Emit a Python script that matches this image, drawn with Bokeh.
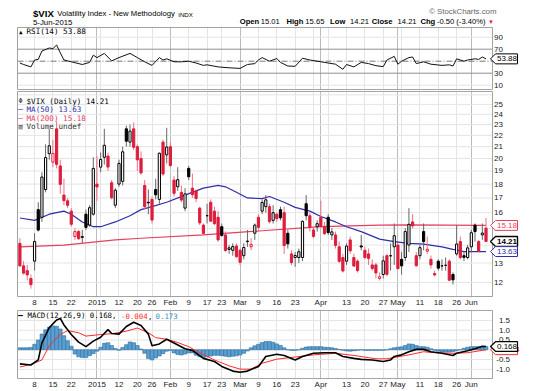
import numpy as np
import pandas as pd
from bokeh.plotting import figure
from bokeh.layouts import column
from bokeh.models import (Range1d, Label, FixedTicker, Grid, ColumnDataSource,
                          CustomJSTickFormatter)
from bokeh.core.properties import value
from bokeh.embed import file_html
from bokeh.resources import INLINE

# ---------------- data ----------------
holidays = ["2014-12-25", "2015-01-01", "2015-01-19", "2015-02-16", "2015-04-03", "2015-05-25"]
prev_close = 14.29  # close of the session before the first candle

opens = [14.10, 12.85, 12.60, 12.20, 13.10, 16.20, 15.70, 17.60, 20.40, 19.70,
         22.60, 19.40, 17.20, 16.80, 16.10, 14.50, 14.80, 14.45, 15.90, 15.20,
         15.90, 18.00, 19.30, 20.10, 20.20, 18.10, 16.50, 18.00, 18.20, 22.60,
         21.40, 22.60, 21.00, 20.00, 17.90, 16.70, 16.90, 17.60, 16.90, 21.40,
         20.30, 21.00, 18.30, 17.80, 17.40, 16.30, 19.20, 17.70, 17.50, 16.30,
         15.20, 15.80, 16.70, 16.10, 15.70, 15.10, 14.60, 13.75, 13.70, 13.95,
         13.70, 13.40, 14.20, 13.90, 14.70, 15.70, 16.10, 16.40, 16.40, 15.50,
         15.90, 16.20, 16.00, 14.70, 13.50, 13.30, 13.30, 13.30, 16.60, 15.80,
         14.90, 15.10, 15.70, 15.10, 15.70, 14.60, 14.60, 13.90, 13.30, 13.10,
         14.30, 13.30, 13.10, 13.95, 13.70, 13.50, 12.90, 12.90, 12.20, 12.40,
         13.40, 13.40, 13.90, 14.00, 13.20, 13.30, 14.00, 15.40, 13.40, 13.40,
         14.80, 13.65, 13.20, 12.45, 13.10, 12.85, 12.88, 13.10, 12.40, 13.50,
         14.20, 13.40, 13.30, 13.90, 15.20, 14.20, 14.60, 15.01]
highs = [14.40, 13.10, 12.90, 12.40, 14.70, 16.70, 18.90, 21.20, 22.60, 21.60,
         23.30, 19.90, 18.40, 17.00, 16.30, 15.00, 14.90, 14.90, 16.20, 16.50,
         20.10, 20.20, 20.50, 22.60, 20.50, 18.30, 17.70, 19.90, 21.00, 22.90,
         23.00, 23.20, 21.20, 20.60, 18.30, 17.60, 17.10, 18.40, 20.50, 21.60,
         22.70, 21.40, 18.60, 19.30, 17.90, 17.70, 19.40, 18.80, 17.60, 16.40,
         15.30, 16.60, 16.90, 16.40, 16.10, 15.30, 14.80, 14.00, 14.10, 14.10,
         13.80, 14.10, 14.90, 14.40, 15.30, 15.90, 16.90, 17.20, 16.60, 16.50,
         16.00, 16.40, 16.40, 14.90, 13.70, 13.60, 13.80, 15.50, 17.20, 16.00,
         15.10, 15.50, 16.80, 15.40, 15.90, 15.00, 14.80, 14.20, 13.50, 14.10,
         14.50, 13.50, 13.20, 14.60, 13.90, 13.80, 13.20, 13.00, 12.50, 13.40,
         13.50, 14.10, 15.30, 14.10, 13.60, 15.00, 16.30, 15.90, 13.60, 14.00,
         15.30, 14.50, 13.40, 12.60, 13.20, 13.20, 13.30, 13.20, 12.50, 15.20,
         14.50, 13.60, 14.00, 14.90, 15.30, 14.30, 15.30, 15.65]
lows = [12.80, 12.40, 12.10, 11.70, 12.60, 14.80, 15.40, 17.40, 19.90, 19.30,
        19.20, 17.30, 16.50, 16.30, 15.10, 14.30, 14.30, 14.10, 14.90, 15.10,
        15.80, 16.80, 18.90, 19.50, 19.00, 16.90, 16.30, 17.80, 17.90, 21.00,
        21.00, 20.70, 19.00, 18.70, 16.20, 15.90, 15.30, 16.90, 16.60, 18.60,
        19.60, 19.30, 17.10, 17.50, 16.70, 16.10, 18.30, 17.00, 16.70, 15.20,
        14.60, 15.30, 15.40, 15.20, 14.20, 14.50, 13.60, 13.50, 13.40, 13.30,
        12.90, 13.20, 13.90, 13.70, 14.30, 14.90, 15.90, 16.00, 15.30, 15.30,
        15.40, 15.50, 13.50, 13.80, 12.90, 12.80, 13.00, 13.10, 15.50, 14.80,
        14.40, 14.80, 15.00, 14.60, 14.60, 14.30, 13.80, 13.00, 12.50, 12.90,
        13.50, 12.80, 12.50, 13.70, 13.20, 12.90, 12.60, 12.20, 12.10, 12.20,
        12.30, 12.60, 12.90, 12.70, 12.40, 13.10, 13.60, 15.00, 12.80, 13.20,
        13.70, 13.50, 12.70, 12.30, 12.60, 12.60, 12.60, 12.10, 11.90, 13.40,
        13.20, 13.10, 13.20, 13.60, 14.20, 13.60, 14.30, 14.21]
closes = [12.85, 12.47, 12.38, 11.89, 14.21, 14.89, 18.53, 20.08, 21.08, 20.42,
          19.52, 17.98, 16.81, 16.49, 15.25, 14.80, 14.37, 14.50, 15.06, 16.33,
          19.20, 17.79, 19.92, 21.12, 19.31, 17.01, 17.55, 19.60, 20.56, 21.48,
          22.39, 20.95, 19.89, 18.85, 16.40, 16.66, 15.52, 17.22, 20.44, 18.76,
          20.97, 19.43, 17.33, 18.33, 16.85, 17.29, 18.55, 17.23, 16.96, 15.34,
          14.69, 15.80, 15.45, 15.29, 14.30, 14.56, 13.69, 13.84, 13.91, 13.34,
          13.04, 13.86, 14.23, 14.04, 15.20, 15.06, 16.69, 16.87, 15.42, 16.00,
          15.61, 15.66, 13.97, 14.07, 13.02, 13.41, 13.62, 15.44, 15.80, 15.07,
          14.51, 15.29, 15.11, 14.67, 14.74, 14.78, 13.98, 13.09, 12.58, 13.94,
          13.67, 12.84, 12.60, 13.89, 13.30, 13.25, 12.71, 12.48, 12.29, 13.12,
          12.41, 13.39, 14.55, 12.70, 12.85, 14.80, 15.25, 15.15, 12.86, 13.85,
          14.20, 13.76, 12.90, 12.38, 12.73, 12.85, 12.88, 12.11, 12.13, 14.06,
          13.30, 13.31, 13.84, 14.73, 14.80, 13.66, 14.71, 14.21]

ma50_idx = [0, 4, 8, 12, 14, 17, 20, 22, 26, 30, 33, 36, 40, 45, 50, 54, 56, 59,
            62, 66, 68, 72, 75, 79, 82, 86, 89, 93, 98, 102, 106, 110, 115, 118, 121, 127]
ma50_val = [15.65, 15.5, 15.9, 16.1, 15.9, 15.4, 15.1, 15.1, 15.4, 15.8, 16.2, 16.4,
            16.7, 17.2, 17.7, 17.9, 17.8, 17.4, 17.0, 16.95, 17.1, 16.7, 16.35, 16.1,
            15.75, 15.4, 15.1, 14.8, 14.35, 14.2, 14.1, 14.05, 13.9, 13.75, 13.63, 13.63]
ma200_idx = [0, 12, 26, 33, 50, 66, 82, 98, 106, 116, 127]
ma200_val = [13.9, 14.0, 14.3, 14.4, 14.6, 14.85, 15.1, 15.2, 15.22, 15.2, 15.18]

rsi_idx = [0, 1, 3, 4, 5, 6, 8, 9, 10, 11, 12, 15, 17, 19, 20, 21, 23, 25, 27, 30,
           32, 34, 36, 38, 39, 40, 42, 44, 46, 48, 50, 51, 54, 57, 60, 62, 64, 65,
           66, 68, 70, 71, 73, 75, 77, 79, 81, 83, 86, 88, 89, 91, 93, 95, 97, 99,
           100, 102, 103, 104, 106, 107, 108, 110, 112, 115, 117, 118, 119, 121,
           122, 124, 125, 126, 127]
rsi_val = [47, 44.5, 40.5, 52, 53, 67, 72, 71, 77, 64, 52, 47.5, 44.5, 48, 60, 56,
           63, 50.5, 56, 63, 56, 49, 43, 56, 52, 54, 49, 49, 50, 47, 43, 44, 40.5,
           39, 38, 44.5, 46, 52, 56, 50, 54.5, 48, 42, 41.5, 55, 52, 50, 48, 45,
           36.5, 44.5, 40.5, 48, 46, 42.5, 41, 52, 58, 45, 50, 56, 57, 46, 49, 45,
           43, 44, 42, 54, 50, 52, 54, 53, 57, 53.88]

macd_idx = [0, 3, 5, 6, 8, 10, 11, 12, 14, 16, 18, 20, 22, 24, 25, 27, 29, 31, 33,
            35, 36, 38, 40, 42, 45, 47, 50, 53, 55, 58, 60, 62, 65, 67, 70, 72, 75,
            77, 80, 83, 86, 88, 91, 93, 96, 99, 101, 102, 104, 106, 108, 110, 112,
            115, 118, 119, 122, 124, 126, 127]
macd_val = [-0.72, -0.78, -0.52, 0.35, 1.13, 1.52, 1.60, 1.27, 0.78, 0.39, 0.16,
            0.44, 0.64, 1.03, 0.83, 0.80, 1.19, 1.41, 1.24, 0.80, 0.21, 0.30, 0.54,
            0.35, 0.05, -0.03, -0.44, -0.60, -0.85, -1.09, -1.15, -1.09, -0.85,
            -0.34, -0.23, -0.29, -0.52, -0.34, -0.18, -0.15, -0.15, -0.34, -0.44,
            -0.49, -0.52, -0.60, -0.52, -0.34, -0.26, -0.10, 0.02, 0.02, -0.10,
            -0.18, -0.29, -0.18, -0.05, 0.05, 0.18, 0.168]
signal_idx = [0, 3, 6, 8, 11, 13, 16, 18, 22, 25, 29, 32, 35, 37, 40, 43, 46, 49,
              53, 57, 60, 63, 66, 70, 75, 80, 86, 91, 97, 100, 106, 110, 113, 118,
              122, 126, 127]
signal_val = [-0.88, -0.75, -0.52, 0.21, 0.78, 0.98, 0.87, 0.70, 0.78, 0.82, 0.95,
              1.11, 0.87, 0.62, 0.54, 0.37, 0.16, -0.16, -0.52, -0.82, -0.99, -0.99,
              -0.69, -0.48, -0.37, -0.26, -0.18, -0.29, -0.46, -0.46, -0.26, -0.10,
              -0.15, -0.18, -0.15, -0.03, -0.004]
hist_val = [0.10, 0.10, 0.10, 0.12, 0.28, 0.50, 0.80, 1.02, 1.15, 1.22,
            1.20, 1.06, 0.72, 0.46, 0.18, -0.22, -0.36, -0.40, -0.40, -0.30,
            -0.20, -0.07, 0.13, 0.33, 0.36, 0.22, 0.06, -0.02, 0.12, 0.26,
            0.40, 0.36, 0.22, 0.04, -0.18, -0.45, -0.52, -0.42, -0.32, -0.20,
            -0.07, -0.03, -0.16, -0.24, -0.27, -0.22, -0.16, -0.16, -0.28, -0.36,
            -0.39, -0.36, -0.32, -0.28, -0.28, -0.30, -0.33, -0.36, -0.33, -0.31,
            -0.27, -0.18, -0.06, 0.10, 0.20, 0.28, 0.37, 0.42, 0.42, 0.38,
            0.30, 0.22, 0.10, 0.00, -0.03, -0.03, 0.00, 0.08, 0.14, 0.16,
            0.16, 0.16, 0.16, 0.13, 0.12, 0.10, 0.06, 0.02, -0.02, -0.06,
            -0.07, -0.05, -0.03, 0.00, -0.03, -0.03, -0.03, -0.03, -0.03, -0.03,
            0.00, 0.05, 0.10, 0.13, 0.15, 0.22, 0.30, 0.28, 0.22, 0.16,
            0.16, 0.13, 0.05, -0.02, -0.07, -0.11, -0.12, -0.12, -0.10, -0.05,
            0.00, 0.08, 0.13, 0.16, 0.16, 0.16, 0.16, 0.173]

tick_dates = ["2014-12-08", "2014-12-15", "2014-12-22", "2015-01-02", "2015-01-12",
              "2015-01-20", "2015-01-26", "2015-02-02", "2015-02-09", "2015-02-17",
              "2015-02-23", "2015-03-02", "2015-03-09", "2015-03-16", "2015-03-23",
              "2015-04-01", "2015-04-13", "2015-04-20", "2015-04-27", "2015-05-01",
              "2015-05-11", "2015-05-18", "2015-05-26", "2015-06-01"]
tick_labels = ["8", "15", "22", "2015", "12", "20", "26", "Feb", "9", "17", "23", "Mar",
               "9", "16", "23", "Apr", "13", "20", "27", "May", "11", "18", "26", "Jun"]
price_ticks = [12, 13, 14, 15, 16, 17, 18, 19, 20, 21, 22, 23, 24, 25]
price_grid = [12, 13, 14, 15, 16, 17, 18, 19, 20, 21, 22, 23, 24, 25, 26]
rsi_ticks = [10, 30, 70, 90]
macd_ticks = [-1.0, -0.5, 0.5, 1.0, 1.5]
macd_grid = [-1.0, -0.5, 0.0, 0.5, 1.0, 1.5]

# ---------------- derived ----------------
dates = [d for d in pd.bdate_range("2014-12-02", "2015-06-05")
         if d.strftime("%Y-%m-%d") not in holidays]
n = len(dates)
assert n == len(opens) == len(highs) == len(lows) == len(closes) == len(hist_val)
pos_of = {d.strftime("%Y-%m-%d"): i for i, d in enumerate(dates)}
tick_pos = [pos_of[d] for d in tick_dates]
week_lines = [i for i in range(1, n) if dates[i].isocalendar()[1] != dates[i - 1].isocalendar()[1]]
month_lines = [i for i in range(1, n) if dates[i].month != dates[i - 1].month]

# ---------------- layout constants ----------------
W = 550
X0 = -0.654          # data x at the panel's left border (px 17)
PXU = 475 / 129.424  # px per trading day
FONT = "Liberation Sans"
MONO = "DejaVu Sans Mono"
RED = "#dc1e3c"
BLUE_MA = "#2f2fa8"
RED_MA = "#e5405f"
SIG = "#ff2a2a"
GRID_C = "#e4e4e4"
GRID_M = "#bcbcbc"
OUT = "#a3a3a3"


def xd(px):
    return X0 + (px - 17) / PXU


xr = Range1d(xd(16), xd(550))


class Pan:
    """pixel <-> value mapping of one panel (absolute page pixels)"""
    def __init__(s, px0, v0, k, log, ftop, fbot, otop, obot):
        s.px0, s.v0, s.k, s.log = px0, v0, k, log
        s.ftop, s.fbot, s.otop, s.obot = ftop, fbot, otop, obot

    def val(s, px):
        if s.log:
            return float(s.v0 * np.exp((s.px0 - px) / s.k))
        return float(s.v0 + (s.px0 - px) / s.k)

    def px(s, v):
        if s.log:
            return float(s.px0 - s.k * np.log(v / s.v0))
        return float(s.px0 - s.k * (v - s.v0))


RSI_P = Pan(90.7, 0.0, 0.6, False, 26, 90, 27, 89)
PR_P = Pan(104.0, 25.0, 245.0, True, 90, 299, 91, 298)
MACD_P = Pan(351.0, 0.0, 20.4, False, 309, 382, 310, 381)


def lab(p, x, y, text, size="8px", color="#000", font=FONT, style="normal", align="left"):
    p.add_layout(Label(x=x, y=y, text=text, text_font_size=size, text_color=color,
                       text_font=font, text_font_style=style, text_align=align,
                       text_baseline="middle"))


def ylabels(p, pan, ticks, labels, align="left", xpx=493.5):
    p.text(x=[xd(xpx)] * len(ticks), y=ticks, text=labels, text_font=value(FONT),
           text_font_size=value("8px"), text_color="#222222", text_align=align,
           text_baseline="middle")


def hlines(p, pan, vals, color, dash="solid", width=1):
    p.segment(x0=[xd(17)] * len(vals), x1=[xd(492)] * len(vals), y0=vals, y1=vals,
              line_color=color, line_width=width, line_dash=dash)


def tag(p, pan, v, text, color, text_color=None, bold=False, lw=1):
    yc = pan.px(v)
    xs = [xd(490), xd(495), xd(517), xd(517), xd(495)]
    ys = [v, pan.val(yc - 5), pan.val(yc - 5), pan.val(yc + 5), pan.val(yc + 5)]
    p.patch(x=xs, y=ys, fill_color="white", line_color=color, line_width=lw)
    p.text(x=[xd(496.5)], y=[v], text=[text], text_font=value(FONT),
           text_font_size=value("8px"), text_color=text_color or color,
           text_font_style="bold" if bold else "normal",
           text_align="left", text_baseline="middle")


def panel(pan, b_bot, y_type="linear", xaxis=False):
    h = pan.fbot - pan.ftop + b_bot
    p = figure(width=W, height=h, x_range=xr,
               y_range=Range1d(pan.val(pan.fbot), pan.val(pan.ftop)), y_axis_type=y_type,
               x_axis_location=("below" if xaxis else None), y_axis_location=None,
               output_backend="svg", toolbar_location=None, tools="",
               min_border_left=16, min_border_right=0,
               min_border_top=0, min_border_bottom=b_bot)
    p.xgrid.visible = False
    p.ygrid.visible = False
    p.outline_line_color = None
    p.add_layout(Grid(dimension=0, ticker=FixedTicker(ticks=week_lines), grid_line_color=GRID_C))
    p.add_layout(Grid(dimension=0, ticker=FixedTicker(ticks=month_lines), grid_line_color=GRID_M))
    if xaxis:
        xa = p.xaxis[0]
        xa.ticker = FixedTicker(ticks=tick_pos)
        xa.formatter = CustomJSTickFormatter(
            args=dict(pos=tick_pos, labs=tick_labels),
            code="const k = pos.indexOf(Math.round(tick)); return k >= 0 ? labs[k] : '';")
        xa.axis_line_color = None
        xa.major_tick_line_color = None
        xa.minor_tick_line_color = None
        xa.major_tick_out = 0
        xa.major_tick_in = 0
        xa.major_label_text_font_size = "8px"
        xa.major_label_text_font = FONT
        xa.major_label_text_color = "#222"
        xa.major_label_standoff = 0
    return p


def box(p, pan):
    p.quad(left=[xd(17)], right=[xd(492)], bottom=[pan.val(pan.obot)], top=[pan.val(pan.otop)],
           fill_color=None, line_color=OUT, line_width=1)


# ---------------- header ----------------
hdr = figure(width=W, height=26, x_range=Range1d(0, W), y_range=Range1d(26, 0),
             output_backend="svg", toolbar_location=None, tools="", min_border=0,
             x_axis_location=None, y_axis_location=None)
hdr.outline_line_color = None
hdr.xgrid.visible = False
hdr.ygrid.visible = False
lab(hdr, 17, 12.7, "$VIX", size="9.6px", style="bold")
lab(hdr, 42, 13.2, "Volatility Index - New Methodology", size="7.7px")
lab(hdr, 166.5, 13.8, "INDX", size="6.2px")
lab(hdr, 17, 21.5, "5-Jun-2015", size="7.8px")
lab(hdr, 425, 10.8, "\u00a9 StockCharts.com", size="7.8px", color="#666")
hdr_parts = [(230, "Open", True), (251.5, "15.01", False), (278, "High", True),
             (297.5, "15.65", False), (323, "Low", True), (343.5, "14.21", False),
             (366, "Close", True), (392.5, "14.21", False), (416, "Chg", True),
             (433, "-0.50 (-3.40%)", False)]
for x, t, b in hdr_parts:
    lab(hdr, x, 21, t, size="7.6px", style="bold" if b else "normal")
lab(hdr, 485.5, 21.5, "\u25bc", size="6px", color=RED)

# ---------------- RSI panel ----------------
rsi = panel(RSI_P, 0)
hlines(rsi, RSI_P, [10, 90], GRID_C)
hlines(rsi, RSI_P, [30, 70], "#8f8f8f")
hlines(rsi, RSI_P, [50], "#777777", dash="6 2 1 2")
rsi.line(rsi_idx, rsi_val, line_color="#111111", line_width=1)
box(rsi, RSI_P)
ylabels(rsi, RSI_P, rsi_ticks, [str(t) for t in rsi_ticks])
lab(rsi, xd(18.5), RSI_P.val(31), "\u25b2", size="6px", font=MONO)
lab(rsi, xd(26), RSI_P.val(31), "RSI(14) 53.88", size="7.6px", font=MONO)
tag(rsi, RSI_P, 53.88, "53.88", "#000000")

# ---------------- price panel ----------------
pp = panel(PR_P, 10, y_type="log", xaxis=True)
hlines(pp, PR_P, price_grid, GRID_C)

prevs = [prev_close] + closes[:-1]
colr = ["#000000" if c >= q else RED for c, q in zip(closes, prevs)]
wick = ["#666666" if c >= q else "#ee7088" for c, q in zip(closes, prevs)]
fill = ["#ffffff" if c > o else k for c, o, k in zip(closes, opens, colr)]
src = ColumnDataSource(dict(x=list(range(n)), high=highs, low=lows,
                            top=[max(o, c) for o, c in zip(opens, closes)],
                            bot=[min(o, c) for o, c in zip(opens, closes)],
                            col=colr, wick=wick, fill=fill))
pp.line(ma200_idx, ma200_val, line_color=RED_MA, line_width=1.2)
pp.line(ma50_idx, ma50_val, line_color=BLUE_MA, line_width=1.2)
pp.segment(x0="x", y0="low", x1="x", y1="high", line_color="wick", line_width=1, source=src)
pp.vbar(x="x", width=0.6, top="top", bottom="bot", fill_color="fill", line_color="col",
        line_width=1, source=src)
box(pp, PR_P)
ylabels(pp, PR_P, price_ticks, [str(t) for t in price_ticks])

lab(pp, xd(18), PR_P.val(101), "\u03a6", size="7px", font=MONO, color="#444")
lab(pp, xd(26), PR_P.val(101), "$VIX (Daily) 14.21", size="7.6px", font=MONO)
lab(pp, xd(17.5), PR_P.val(109.5), "\u2014", size="8px", font=MONO, color=BLUE_MA)
lab(pp, xd(26), PR_P.val(109.5), "MA(50) 13.63", size="7.6px", font=MONO, color=BLUE_MA)
lab(pp, xd(17.5), PR_P.val(118), "\u2014", size="8px", font=MONO, color=RED_MA)
lab(pp, xd(26), PR_P.val(118), "MA(200) 15.18", size="7.6px", font=MONO, color=RED_MA)
lab(pp, xd(18), PR_P.val(126.5), "\u25a5", size="7px", font=MONO, color="#555")
lab(pp, xd(26), PR_P.val(126.5), "Volume undef", size="7.6px", font=MONO, color="#333")

tag(pp, PR_P, 15.18, "15.18", RED_MA)
tag(pp, PR_P, 14.21, "14.21", "#000000", bold=True, lw=1.4)
tag(pp, PR_P, 13.63, "13.63", BLUE_MA)

# ---------------- MACD panel ----------------
mp = panel(MACD_P, 9, xaxis=True)
hlines(mp, MACD_P, macd_grid, GRID_C)
mp.vbar(x=list(range(n)), width=1.0, top=hist_val, bottom=0, fill_color="#5a9fd0",
        line_color="#2f6f9f", line_width=0.6)
mp.line(signal_idx, signal_val, line_color=SIG, line_width=1)
mp.line(macd_idx, macd_val, line_color="#000000", line_width=1.6)
box(mp, MACD_P)
ylabels(mp, MACD_P, macd_ticks, ["%.1f" % t for t in macd_ticks], align="right", xpx=509.5)

yl = MACD_P.val(315.5)
lab(mp, xd(17.5), yl, "\u2014", size="8px", font=MONO, style="bold")
lab(mp, xd(27), yl, "MACD(12,26,9) 0.168,", size="7.4px", font=MONO)
lab(mp, xd(120.5), yl, "-0.004", size="7.4px", font=MONO, color=SIG)
lab(mp, xd(147.5), yl, ",", size="7.4px", font=MONO)
lab(mp, xd(155), yl, "0.173", size="7.4px", font=MONO, color="#3d8fc6")

tag(mp, MACD_P, -0.004, "-0.004", SIG)
tag(mp, MACD_P, 0.168, "0.168", "#000000", lw=1.2)

layout = column(hdr, rsi, pp, mp, spacing=0)
open("out.html", "w").write(file_html(layout, INLINE))
